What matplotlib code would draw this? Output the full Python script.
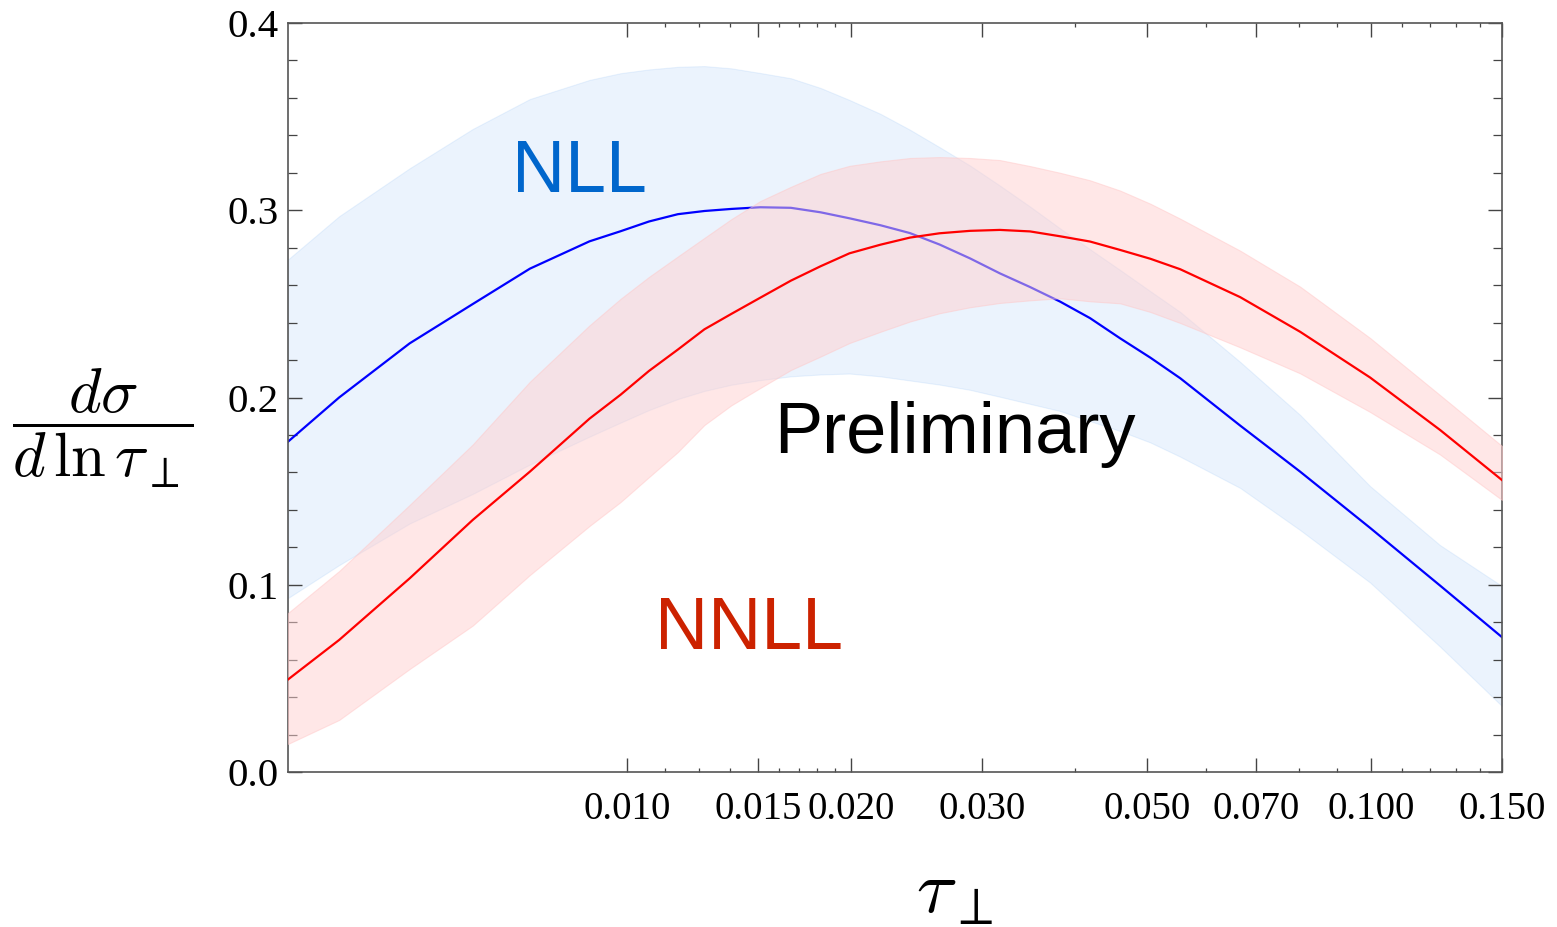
import numpy as np
import matplotlib
matplotlib.use("Agg")
import matplotlib.pyplot as plt

plt.rcParams['mathtext.fontset'] = 'cm'
plt.rcParams['font.family'] = ['Liberation Serif', 'DejaVu Serif']

# tau_perp sample points
tau = [0.0035, 0.0041, 0.0051, 0.0062, 0.0074, 0.0089, 0.0098, 0.0107,
       0.0117, 0.0127, 0.0138, 0.0151, 0.0166, 0.0182, 0.0199, 0.0219,
       0.0240, 0.0263, 0.0289, 0.0317, 0.0348, 0.0382, 0.0419, 0.046,
       0.0505, 0.0554, 0.0667, 0.0803, 0.0997, 0.1238, 0.15]

# NLL central value and scale-variation band
nll = [0.1764, 0.2000, 0.2289, 0.2499, 0.2688, 0.2834, 0.2888, 0.2940,
       0.2979, 0.2996, 0.3007, 0.3016, 0.3013, 0.2989, 0.2957, 0.2920,
       0.2878, 0.2817, 0.2743, 0.2663, 0.2590, 0.2512, 0.2424, 0.2316,
       0.2213, 0.2103, 0.1850, 0.1604, 0.1304, 0.0996, 0.0720]
nll_hi = [0.2737, 0.2968, 0.3224, 0.3434, 0.3594, 0.3696, 0.3732, 0.3752,
          0.3766, 0.3770, 0.3758, 0.3733, 0.3705, 0.3653, 0.3589, 0.3515,
          0.3430, 0.3337, 0.3239, 0.3132, 0.3020, 0.2903, 0.2792, 0.2681,
          0.2568, 0.2457, 0.2190, 0.1907, 0.1527, 0.1212, 0.0993]
nll_lo = [0.0929, 0.1105, 0.1327, 0.1485, 0.1642, 0.1791, 0.1866, 0.1933,
          0.1992, 0.2035, 0.2068, 0.2093, 0.2113, 0.2123, 0.2128, 0.2113,
          0.2091, 0.2069, 0.2041, 0.2004, 0.1966, 0.1928, 0.1874, 0.1821,
          0.1760, 0.1684, 0.1517, 0.1292, 0.1012, 0.0670, 0.0352]

# NNLL central value and band
nnll = [0.0494, 0.0705, 0.1034, 0.1346, 0.1604, 0.1887, 0.2015, 0.2142,
        0.2256, 0.2364, 0.2446, 0.2533, 0.2624, 0.2701, 0.2770, 0.2816,
        0.2854, 0.2877, 0.2890, 0.2895, 0.2887, 0.2861, 0.2833, 0.2788,
        0.2741, 0.2685, 0.2536, 0.2351, 0.2107, 0.1827, 0.1559]
nnll_hi = [0.0849, 0.1073, 0.1426, 0.1749, 0.2084, 0.2385, 0.2527, 0.2644,
           0.2753, 0.2852, 0.2952, 0.3049, 0.3125, 0.3194, 0.3237, 0.3261,
           0.3279, 0.3284, 0.3279, 0.3268, 0.3236, 0.3200, 0.3160, 0.3105,
           0.3035, 0.2955, 0.2784, 0.2592, 0.2318, 0.2013, 0.1741]
nnll_lo = [0.0150, 0.0278, 0.0550, 0.0782, 0.1052, 0.1314, 0.1442, 0.1575,
           0.1709, 0.1853, 0.1958, 0.2051, 0.2147, 0.2219, 0.2291, 0.2351,
           0.2406, 0.2450, 0.2482, 0.2505, 0.2519, 0.2530, 0.2514, 0.2503,
           0.2457, 0.2398, 0.2268, 0.2129, 0.1923, 0.1696, 0.1453]

xticks_major = [0.010, 0.015, 0.020, 0.030, 0.050, 0.070, 0.100, 0.150]
xtick_labels = ['0.010', '0.015', '0.020', '0.030', '0.050', '0.070', '0.100', '0.150']
xticks_minor = [0.01125, 0.0125, 0.01375, 0.016, 0.017, 0.018, 0.019,
                0.04, 0.06, 0.08, 0.09, 0.11, 0.12, 0.13, 0.14]
yticks_major = [0.0, 0.1, 0.2, 0.3, 0.4]
ytick_labels = ['0.0', '0.1', '0.2', '0.3', '0.4']

fig = plt.figure(figsize=(15.57, 9.27), dpi=100)
ax = fig.add_axes([288 / 1557, 1 - 772 / 927, (1502 - 288) / 1557, (772 - 23) / 927])

# bands: blue below, red band drawn over the NLL line
ax.fill_between(tau, nll_lo, nll_hi, color='#3d8ef0', alpha=0.1, lw=0.8, zorder=1)
ax.plot(tau, nll, color='#0000ff', lw=1.6, zorder=2)
ax.fill_between(tau, nnll_lo, nnll_hi, facecolor='#ffd0d0', alpha=0.5,
                edgecolor='#ffc8c8', lw=0.8, zorder=3)
ax.plot(tau, nnll, color='#ff0000', lw=1.6, zorder=4)

ax.set_xscale('log')
ax.set_xlim(0.0035, 0.15)
ax.set_ylim(0, 0.4)

ax.set_xticks(xticks_major)
ax.set_xticklabels(xtick_labels)
ax.set_xticks(xticks_minor, minor=True)
ax.xaxis.set_minor_formatter(matplotlib.ticker.NullFormatter())
ax.set_yticks(yticks_major)
ax.set_yticklabels(ytick_labels)
ax.set_yticks(np.arange(0, 0.41, 0.02), minor=True)

ax.tick_params(axis='both', which='both', direction='in', top=True, right=True,
               color='#444444')
ax.tick_params(axis='x', which='major', length=10, width=1.0, pad=14, labelsize=28)
ax.tick_params(axis='x', which='minor', length=3, width=0.9)
ax.tick_params(axis='y', which='major', length=10, width=1.0, pad=7, labelsize=29.5)
ax.tick_params(axis='y', which='minor', length=6.5, width=0.9)
for sp in ax.spines.values():
    sp.set_color('#555555')
    sp.set_linewidth(1.2)

sans = ['Liberation Sans', 'DejaVu Sans']
ax.text(0.00863, 0.3099, 'NLL', color='#0066cc', fontsize=53, family=sans,
        ha='center', va='baseline', zorder=5)
ax.text(0.01459, 0.0655, 'NNLL', color='#cc2200', fontsize=53, family=sans,
        ha='center', va='baseline', zorder=5)
ax.text(0.0276, 0.1702, 'Preliminary', color='black', fontsize=52, family=sans,
        ha='center', va='baseline', zorder=5)

fig.text(955 / 1557, 1 - 894 / 927, r'$\tau_\perp$', fontsize=54, ha='center', va='center')
fig.text(103 / 1557, 1 - 428 / 927, r'$\dfrac{d\sigma}{d\,\ln\tau_\perp}$', fontsize=45,
         ha='center', va='center')

fig.savefig('out.png', dpi=100)
